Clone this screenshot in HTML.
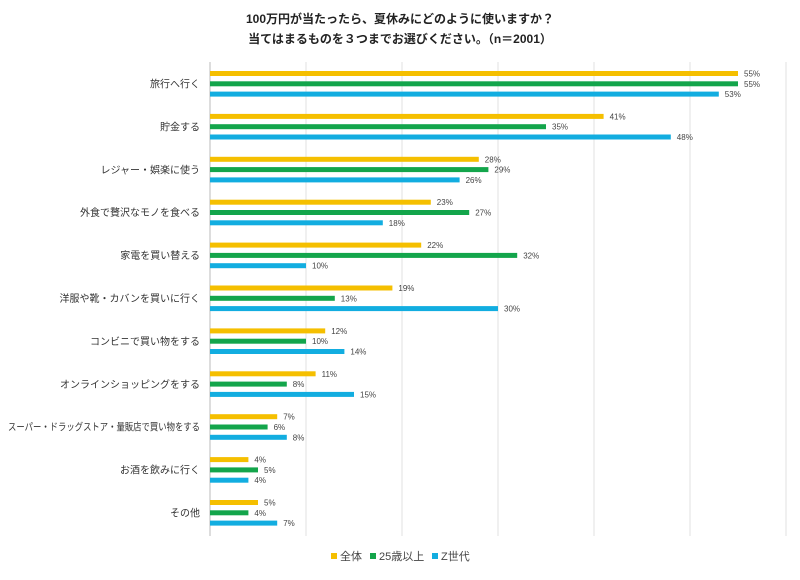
<!DOCTYPE html>
<html><head><meta charset="utf-8"><style>
body{margin:0;background:#fff;font-family:"Liberation Sans","Noto Sans CJK JP",sans-serif;}
svg text{font-family:"Liberation Sans","Noto Sans CJK JP",sans-serif;}
</style></head><body>
<svg id="chart" width="800" height="575" viewBox="0 0 800 575" xmlns="http://www.w3.org/2000/svg">
<text x="400" y="23" text-anchor="middle" font-size="12" font-weight="bold" fill="#222">100万円が当たったら、夏休みにどのように使いますか？</text>
<text x="400" y="43" text-anchor="middle" font-size="12" font-weight="bold" fill="#222">当てはまるものを３つまでお選びください。（n＝2001）</text>
<g id="grid"></g><g id="bars"></g><g id="labels"></g>
<g font-size="11" fill="#444">
<rect x="331" y="553" width="6" height="6" fill="#F5BF00"/><text x="340" y="560">全体</text>
<rect x="370" y="553" width="6" height="6" fill="#13A54B"/><text x="379" y="560">25歳以上</text>
<rect x="432" y="553" width="6" height="6" fill="#12ADE0"/><text x="441" y="560">Z世代</text>
</g>
</svg>
<script>
const categories=["旅行へ行く","貯金する","レジャー・娯楽に使う","外食で贅沢なモノを食べる","家電を買い替える","洋服や靴・カバンを買いに行く","コンビニで買い物をする","オンラインショッピングをする","スーパー・ドラッグストア・量販店で買い物をする","お酒を飲みに行く","その他"];
const seriesAll=[55,41,28,23,22,19,12,11,7,4,5];
const series25=[55,35,29,27,32,13,10,8,6,5,4];
const seriesZ=[53,48,26,18,10,30,14,15,8,4,7];
const ticks=[0,10,20,30,40,50,60];
const NS="http://www.w3.org/2000/svg";
const x0=210,pxPer=9.6,top0=73.5,gs=42.9;
const xs=v=>x0+v*pxPer;
function mk(t,a,p){const e=document.createElementNS(NS,t);for(const k in a)e.setAttribute(k,a[k]);p.appendChild(e);return e;}
const grid=document.getElementById('grid'),bars=document.getElementById('bars'),labels=document.getElementById('labels');
ticks.forEach(t=>{const l=mk('line',{x1:xs(t),x2:xs(t),y1:62,y2:536,stroke:t===0?'#bbb':'#e0e0e0','stroke-width':1},grid);

});
const sers=[[seriesAll,'#F5BF00','all'],[series25,'#13A54B','25plus'],[seriesZ,'#12ADE0','genz']];
categories.forEach((c,i)=>{
 const yc=top0+i*gs;
 const t=mk('text',{x:200,y:yc+14,'text-anchor':'end','font-size':10,fill:'#333'},labels);t.textContent=c;
 
 
 if(t.getComputedTextLength()>192){t.setAttribute('textLength',192);t.setAttribute('lengthAdjust','spacingAndGlyphs');}
 sers.forEach((s,j)=>{
  const y=yc+j*10.3;
  const r=mk('rect',{x:x0,y:y-2.5,width:xs(s[0][i])-x0,height:5,fill:s[1]},bars);
  
  
  const v=mk('text',{x:xs(s[0][i])+6,y:y+3,'font-size':8,fill:'#444'},labels);v.textContent=s[0][i]+'%';
  
  
 });
});
</script>
</body></html>
